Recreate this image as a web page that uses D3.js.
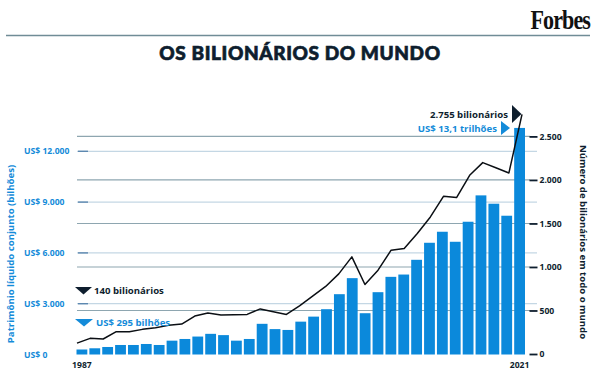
<!DOCTYPE html>
<html>
<head>
<meta charset="utf-8">
<script src="https://cdn.jsdelivr.net/npm/d3@7"></script>
<style>
  body { margin: 0; background: #fff; }
  svg { display: block; }
</style>
</head>
<body>
<div id="chart"></div>
<script>
// Years, total net worth (US$ billions) and number of billionaires
var years = [1987, 1988, 1989, 1990, 1991, 1992, 1993, 1994, 1995, 1996, 1997, 1998,
    1999, 2000, 2001, 2002, 2003, 2004, 2005, 2006, 2007, 2008, 2009, 2010, 2011,
    2012, 2013, 2014, 2015, 2016, 2017, 2018, 2019, 2020, 2021];
var netWorth = [295, 367, 444, 562, 562, 621, 562, 817, 917, 1060, 1220, 1145,
    817, 917, 1812, 1500, 1450, 1940, 2237, 2675, 3562, 4509, 2438, 3680, 4586,
    4722, 5592, 6598, 7249, 6657, 7840, 9397, 8905, 8195, 13380];
var billionaires = [125, 180, 172, 256, 256, 283, 302, 329, 344, 436, 470, 447,
    451, 455, 518, 485, 455, 554, 665, 776, 921, 1116, 799, 963, 1193,
    1212, 1384, 1575, 1812, 1797, 2053, 2199, 2140, 2080, 2753];
var leftTicks = [0, 3000, 6000, 9000, 12000];
var rightTicks = [0, 500, 1000, 1500, 2000, 2500];

var width = 600, height = 376;
var navy = "#0e1e2e", blue = "#148bd9", barBlue = "#0b89db";
var font = "'Open Sans', sans-serif";

var svg = d3.select("#chart").append("svg")
    .attr("width", width)
    .attr("height", height);

// Scales
var x = d3.scaleBand().domain(years).range([76.5, 525]).paddingInner(0.16);
var xLine = d3.scalePoint().domain(years).range([77, 522]);
var yLeft = d3.scaleLinear().domain([0, 12000]).range([354.5, 151.3]);
var yRight = d3.scaleLinear().domain([0, 2500]).range([354, 136.4]);

// Header
svg.append("text")
    .attr("transform", "translate(590,29) scale(0.92,1.12)")
    .attr("text-anchor", "end")
    .style("font-family", "'Liberation Serif', serif")
    .style("font-weight", "bold")
    .style("font-size", "24px")
    .style("letter-spacing", "-1px")
    .style("fill", "#111")
    .text("Forbes");

svg.append("line")
    .attr("x1", 6).attr("x2", 590)
    .attr("y1", 35.5).attr("y2", 35.5)
    .attr("stroke", "#708c96")
    .attr("stroke-width", 1.3);

svg.append("text")
    .attr("x", 300).attr("y", 60)
    .attr("text-anchor", "middle")
    .style("font-family", "Lato, sans-serif")
    .style("font-weight", 900)
    .style("font-size", "19px")
    .style("letter-spacing", "0.6px")
    .style("fill", navy)
    .style("stroke", navy)
    .style("stroke-width", 0.7)
    .text("OS BILIONÁRIOS DO MUNDO");

// Gridlines for the left axis (light)
svg.selectAll(".gridL")
    .data(leftTicks.slice(1))
    .enter().append("line")
    .attr("class", "gridL")
    .attr("x1", 77).attr("x2", 537)
    .attr("y1", d => yLeft(d)).attr("y2", d => yLeft(d))
    .attr("stroke", "#c4d7e4")
    .attr("stroke-width", 1.2);

svg.selectAll(".tickL")
    .data(leftTicks.slice(1))
    .enter().append("line")
    .attr("class", "tickL")
    .attr("x1", 78).attr("x2", 88)
    .attr("y1", d => yLeft(d)).attr("y2", d => yLeft(d))
    .attr("stroke", "#5d88b0")
    .attr("stroke-width", 1.4);

// Gridlines for the right axis (darker)
svg.selectAll(".gridR")
    .data(rightTicks.slice(1))
    .enter().append("line")
    .attr("class", "gridR")
    .attr("x1", 77).attr("x2", 530)
    .attr("y1", d => yRight(d)).attr("y2", d => yRight(d))
    .attr("stroke", "#8ea6b0")
    .attr("stroke-width", 1.1);

// Bars
svg.selectAll(".bar")
    .data(years)
    .enter().append("rect")
    .attr("class", "bar")
    .attr("x", d => x(d))
    .attr("width", x.bandwidth())
    .attr("y", (d, i) => yLeft(netWorth[i]))
    .attr("height", (d, i) => yLeft(0) - yLeft(netWorth[i]))
    .attr("fill", barBlue);

// Line
var line = d3.line()
    .x((d, i) => xLine(years[i]))
    .y(d => yRight(d));

svg.append("path")
    .datum(billionaires)
    .attr("d", line)
    .attr("fill", "none")
    .attr("stroke", "#0b0f14")
    .attr("stroke-width", 1.5)
    .attr("stroke-linejoin", "round");

// Left axis labels
svg.selectAll(".labL")
    .data(leftTicks)
    .enter().append("text")
    .attr("class", "labL")
    .attr("x", 24)
    .attr("y", d => yLeft(d) + 3)
    .style("font-family", font)
    .style("font-weight", 700)
    .style("font-size", "8.6px")
    .style("fill", blue)
    .text(d => "US$ " + (d === 0 ? "0" : d3.format(",")(d).replace(/,/g, ".")));

// Right axis ticks and labels
var rightAxis = d3.axisRight(yRight)
    .tickValues(rightTicks)
    .tickSize(8)
    .tickPadding(2)
    .tickFormat(d => d3.format(",")(d).replace(/,/g, "."));

var gR = svg.append("g")
    .attr("transform", "translate(529.5,0)")
    .call(rightAxis);
gR.select(".domain").remove();
gR.selectAll(".tick line").attr("stroke", navy).attr("stroke-width", 1.8);
gR.selectAll(".tick text")
    .style("font-family", font)
    .style("font-weight", 700)
    .style("font-size", "8.6px")
    .style("fill", navy);

// Axis titles
svg.append("text")
    .attr("transform", "translate(14,254) rotate(-90)")
    .attr("text-anchor", "middle")
    .style("font-family", font)
    .style("font-weight", 700)
    .style("font-size", "9.6px")
    .style("fill", blue)
    .text("Patrimônio líquido conjunto (bilhões)");

svg.append("text")
    .attr("transform", "translate(580,242) rotate(90)")
    .attr("text-anchor", "middle")
    .style("font-family", font)
    .style("font-weight", 700)
    .style("font-size", "9.6px")
    .style("fill", navy)
    .text("Número de bilionários em todo o mundo");

// Year labels
svg.selectAll(".year")
    .data([years[0], years[years.length - 1]])
    .enter().append("text")
    .attr("class", "year")
    .attr("x", d => x(d) + x.bandwidth() / 2)
    .attr("y", 368)
    .attr("text-anchor", "middle")
    .style("font-family", font)
    .style("font-weight", 700)
    .style("font-size", "8.6px")
    .style("fill", navy)
    .text(d => d);

// Annotations
var annot = svg.append("g")
    .style("font-family", font)
    .style("font-weight", 700)
    .style("font-size", "9.6px");

annot.append("path")
    .attr("d", "M75,287 L92,287 L83.5,294.5 Z")
    .attr("fill", navy);
annot.append("text")
    .attr("x", 94).attr("y", 294)
    .style("fill", navy)
    .text("140 bilionários");

annot.append("path")
    .attr("d", "M75,319 L93,319 L84,326.5 Z")
    .attr("fill", blue);
annot.append("text")
    .attr("x", 96).attr("y", 326)
    .style("fill", blue)
    .text("US$ 295 bilhões");

annot.append("path")
    .attr("d", "M512,105 L521.5,114 L512,123 Z")
    .attr("fill", navy);
annot.append("text")
    .attr("x", 508).attr("y", 118)
    .attr("text-anchor", "end")
    .style("fill", navy)
    .text("2.755 bilionários");

annot.append("path")
    .attr("d", "M501,121 L510,128 L501,135 Z")
    .attr("fill", blue);
annot.append("text")
    .attr("x", 497).attr("y", 131.5)
    .attr("text-anchor", "end")
    .style("fill", blue)
    .text("US$ 13,1 trilhões");
</script>
</body>
</html>
